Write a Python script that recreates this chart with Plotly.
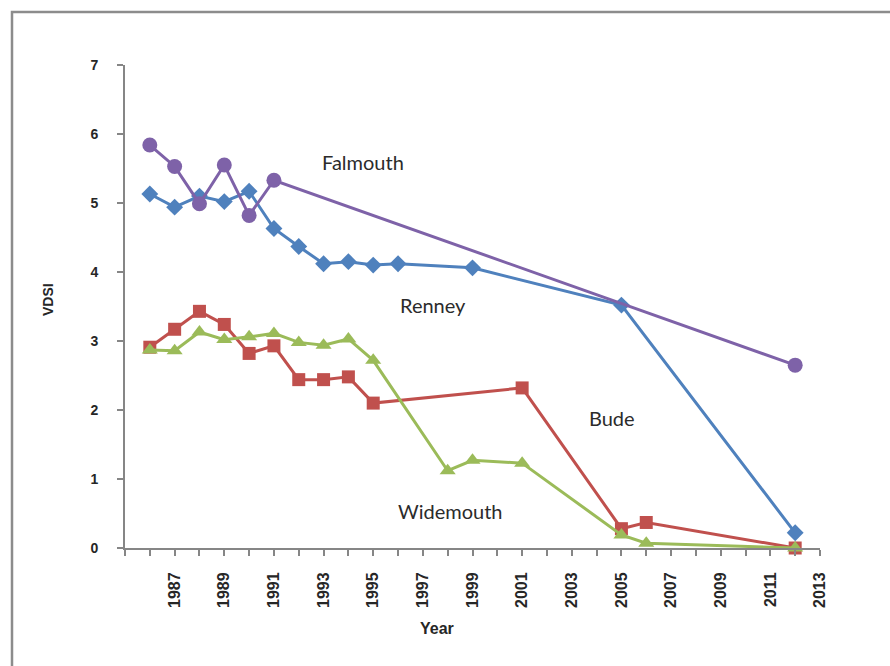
import plotly.graph_objects as go

# VDSI survey values per site
renney_years = [1986, 1987, 1988, 1989, 1990, 1991, 1992, 1993, 1994, 1995, 1996, 1999, 2005, 2012]
renney_vdsi = [5.13, 4.94, 5.10, 5.02, 5.17, 4.63, 4.37, 4.12, 4.15, 4.10, 4.12, 4.06, 3.52, 0.22]

bude_years = [1986, 1987, 1988, 1989, 1990, 1991, 1992, 1993, 1994, 1995, 2001, 2005, 2006, 2012]
bude_vdsi = [2.91, 3.17, 3.43, 3.24, 2.82, 2.93, 2.44, 2.44, 2.48, 2.10, 2.32, 0.28, 0.37, 0.0]

widemouth_years = [1986, 1987, 1988, 1989, 1990, 1991, 1992, 1993, 1994, 1995, 1998, 1999, 2001, 2005, 2006, 2012]
widemouth_vdsi = [2.87, 2.86, 3.13, 3.02, 3.06, 3.11, 2.98, 2.94, 3.03, 2.72, 1.12, 1.27, 1.23, 0.19, 0.07, 0.0]

falmouth_years = [1986, 1987, 1988, 1989, 1990, 1991, 2012]
falmouth_vdsi = [5.84, 5.53, 4.99, 5.55, 4.82, 5.33, 2.65]

site_labels = ["Falmouth", "Renney", "Bude", "Widemouth"]
label_x = [1994.6, 1997.4, 2004.6, 1998.1]
label_y = [5.6, 3.52, 1.88, 0.54]

x_tick_years = list(range(1987, 2014, 2))
y_ticks = list(range(0, 8))

series = [
    ("Renney", renney_years, renney_vdsi, "#4F81BD", "diamond", 13),
    ("Bude", bude_years, bude_vdsi, "#C0504D", "square", 13),
    ("Widemouth", widemouth_years, widemouth_vdsi, "#9BBB59", "triangle-up", 14),
    ("Falmouth", falmouth_years, falmouth_vdsi, "#7E62A8", "circle", 15),
]

fig = go.Figure()
for name, xs, ys, color, symbol, size in series:
    fig.add_trace(go.Scatter(
        x=xs, y=ys, name=name, mode="lines+markers",
        line=dict(color=color, width=3),
        marker=dict(color=color, symbol=symbol, size=size),
        cliponaxis=False, showlegend=False,
    ))

for text, lx, ly in zip(site_labels, label_x, label_y):
    fig.add_annotation(x=lx, y=ly, text=text, showarrow=False,
                       font=dict(family="Lato", size=20, color="#2b2b2b"))

axis_col = "#868686"
tick_font = dict(family="Liberation Sans", color="#262626", weight="bold")

fig.update_xaxes(
    range=[1985, 2013], tickvals=x_tick_years, ticktext=[str(v) for v in x_tick_years],
    tickangle=-90, ticks="outside", ticklen=6, tickwidth=1.5, tickcolor=axis_col,
    minor=dict(dtick=1, tick0=1985, ticks="outside", ticklen=6, tickwidth=1.5, tickcolor=axis_col),
    showline=True, linecolor=axis_col, linewidth=2, showgrid=False, zeroline=False,
    tickfont=dict(size=16, **tick_font), ticklabelstandoff=10,
)
fig.update_yaxes(
    range=[0, 7], tickvals=y_ticks, ticks="outside", ticklen=6, tickwidth=1.5, tickcolor=axis_col,
    showline=True, linecolor=axis_col, linewidth=2, showgrid=False, zeroline=False,
    tickfont=dict(size=14, **tick_font), ticklabelstandoff=16,
)

# axis titles
fig.add_annotation(x=(437 - 125) / 695, y=(548 - 628) / 483, xref="paper", yref="paper",
                   xanchor="center", yanchor="middle",
                   text="<b>Year</b>", showarrow=False,
                   font=dict(family="Liberation Sans", size=16, color="#262626"))
fig.add_annotation(x=(48 - 125) / 695, y=(548 - 300) / 483, xref="paper", yref="paper",
                   xanchor="center", yanchor="middle",
                   text="<b>VDSI</b>", showarrow=False, textangle=-90,
                   font=dict(family="Liberation Sans", size=14, color="#262626"))

# chart frame
fig.add_shape(type="rect", xref="paper", yref="paper",
              x0=(12 - 125) / 695, x1=(905 - 125) / 695,
              y0=(548 - 690) / 483, y1=(548 - 12) / 483,
              line=dict(color="#8c8c8c", width=2.5), fillcolor="rgba(0,0,0,0)", layer="below")

fig.update_layout(
    width=890, height=666,
    margin=dict(l=125, r=70, t=65, b=118),
    paper_bgcolor="white", plot_bgcolor="white",
)

fig.write_html("out.html")
